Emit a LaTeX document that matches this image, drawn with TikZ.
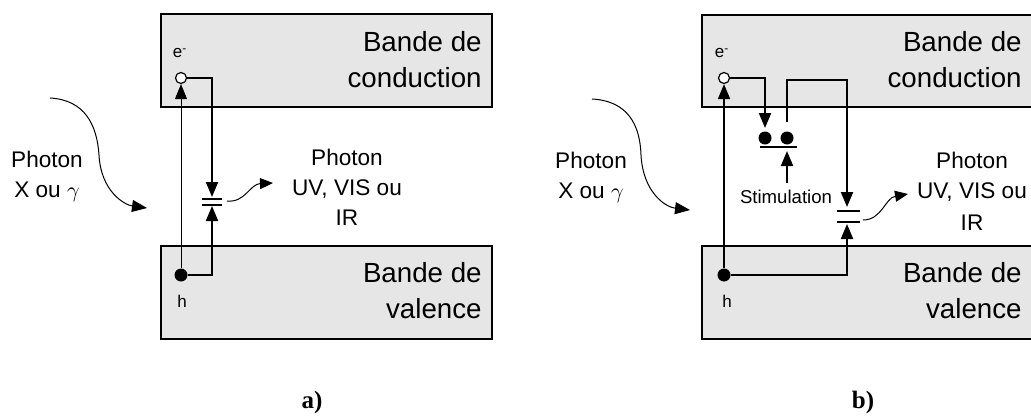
\documentclass[tikz,border=0pt]{standalone}
\usepackage{fontspec}
\setmainfont{Liberation Sans}
\newfontfamily\labfont{Liberation Serif}
\usetikzlibrary{arrows.meta}
\definecolor{bandgray}{HTML}{E6E6E6}
\tikzset{
  x=0.5pt, y=-0.5pt,
  band/.style={draw=black, line width=1pt, fill=bandgray},
  bigtxt/.style={inner sep=0pt, font=\fontsize{13.85}{18}\selectfont},
  phtxt/.style={inner sep=0pt, font=\fontsize{11.3}{15}\selectfont},
  smalltxt/.style={inner sep=0pt, font=\fontsize{8.5}{10}\selectfont},
  stimtxt/.style={inner sep=0pt, font=\fontsize{9.3}{11}\selectfont},
  labtxt/.style={inner sep=0pt, font=\labfont\bfseries\fontsize{12.5}{15}\selectfont},
  ocirc/.style={circle, draw=black, line width=0.6pt, fill=white, minimum size=5.5pt, inner sep=0pt},
  fcirc/.style={circle, fill=black, minimum size=6.5pt, inner sep=0pt},
  tip/.style={-{Triangle[length=7.5pt,width=6pt]}},
  smalltip/.style={-{Triangle[length=6.5pt,width=5.5pt]}},
  thinl/.style={line width=0.5pt},
  thickl/.style={line width=1pt},
  plate/.style={line width=1pt},
}
\begin{document}
\begin{tikzpicture}
\useasboundingbox (0,0) rectangle (1031,417);
% ================= panel a =================
\path[band] (161,14) rectangle (492,107);
\path[band] (161,246) rectangle (492,339);
\node[bigtxt, anchor=base east] (ca1) at (482,52) {Bande de};
\node[bigtxt, anchor=base east] (ca2) at (482,88) {conduction};
\node[bigtxt, anchor=base east] (va1) at (482,282) {Bande de};
\node[bigtxt, anchor=base east] (va2) at (482,318) {valence};
\node[smalltxt, anchor=base] (ela) at (180,58) {e\textsuperscript{-}};
\node[smalltxt, anchor=base] (hla) at (182,307) {h};
\node[ocirc] (ea) at (181,78) {};
\node[fcirc] (ha) at (181,275) {};
\coordinate (pa1) at (212,197);
\coordinate (pa2) at (212,206);
\draw[thinl, tip] (ha) -- (ea);
\draw[thickl, tip] (ea.east) -| (pa1);
\draw[thickl, tip] (ha.east) -| (pa2);
\draw[plate] (202,198.5) -- (222,198.5);
\draw[plate] (202,205) -- (222,205);
\coordinate (ema) at (227,201);
\coordinate (emta) at (273,183);
\draw[thinl, smalltip] (ema) .. controls (245,203) and (250,184) .. (emta);
\node[phtxt, anchor=base] (pra1) at (347,165) {Photon};
\node[phtxt, anchor=base] (pra2) at (347,195) {UV, VIS ou};
\node[phtxt, anchor=base] (pra3) at (347,225) {IR};
\node[phtxt, anchor=base] (pla1) at (47,167) {Photon};
\node[phtxt, anchor=base] (pla2) at (47,197) {X ou $\gamma$};
\coordinate (ina) at (50,98);
\coordinate (inta) at (147,208);
\draw[thinl, tip] (ina) .. controls (85,100) and (97,125) .. (99,155) .. controls (101,192) and (125,205) .. (inta);
\node[labtxt, anchor=base] (laba) at (312,408) {a)};
% ================= panel b =================
\path[band] (702,15) rectangle (1033,107);
\path[band] (702,246) rectangle (1033,339);
\node[bigtxt, anchor=base east] (cb1) at (1022,52) {Bande de};
\node[bigtxt, anchor=base east] (cb2) at (1022,88) {conduction};
\node[bigtxt, anchor=base east] (vb1) at (1022,282) {Bande de};
\node[bigtxt, anchor=base east] (vb2) at (1022,318) {valence};
\node[smalltxt, anchor=base] (elb) at (722,58) {e\textsuperscript{-}};
\node[smalltxt, anchor=base] (hlb) at (727,307) {h};
\node[ocirc] (eb) at (724,78) {};
\node[fcirc] (hb) at (724,275) {};
\node[fcirc] (d1) at (765,138) {};
\node[fcirc] (d2) at (787,138) {};
\draw[plate] (760,147) -- (797,147);
\coordinate (d1top) at (765,128);
\coordinate (d2top) at (787,122);
\coordinate (stb) at (787,183);
\coordinate (stt) at (787,151);
\coordinate (pb1) at (847,207);
\coordinate (pb2) at (847,224);
\draw[thickl, tip] (hb) -- (eb);
\draw[thickl, tip] (eb.east) -| (d1top);
\draw[thickl, tip] (d2top) |- (847,80) -- (pb1);
\draw[thickl, tip] (hb.east) -| (pb2);
\draw[thickl, tip] (stb) -- (stt);
\draw[plate] (837,211) -- (860,211);
\draw[plate] (837,222) -- (860,222);
\node[stimtxt, anchor=base] (stim) at (786,203) {Stimulation};
\coordinate (emb) at (863,220);
\coordinate (emtb) at (908,194);
\draw[thinl, smalltip] (emb) .. controls (882,220) and (885,198) .. (emtb);
\node[phtxt, anchor=base] (prb1) at (972,168) {Photon};
\node[phtxt, anchor=base] (prb2) at (972,198) {UV, VIS ou};
\node[phtxt, anchor=base] (prb3) at (972,230) {IR};
\node[phtxt, anchor=base] (plb1) at (591,168) {Photon};
\node[phtxt, anchor=base] (plb2) at (591,198) {X ou $\gamma$};
\coordinate (inb) at (592,99);
\coordinate (intb) at (690,210);
\draw[thinl, tip] (inb) .. controls (628,101) and (640,125) .. (641,155) .. controls (643,192) and (665,207) .. (intb);
\node[labtxt, anchor=base] (labb) at (863,408) {b)};
\end{tikzpicture}
\end{document}
